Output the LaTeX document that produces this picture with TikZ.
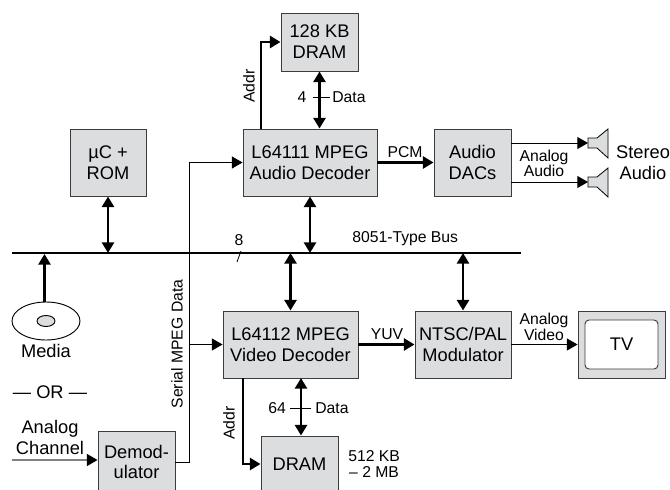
\documentclass[tikz,border=0pt]{standalone}
\usepackage{fontspec}
\setmainfont{Liberation Sans}
\usetikzlibrary{arrows.meta,shapes.geometric}
\definecolor{blockgray}{HTML}{DCDDDE}
\definecolor{edgegray}{HTML}{3C3C3C}
\begin{document}
\begin{tikzpicture}[
            x=0.75pt,y=-0.75pt,
            every node/.style={inner sep=0pt,align=center,font=\fontsize{13.7}{15.6}\selectfont},
            block/.style={draw=edgegray,fill=blockgray,line width=0.7pt},
            sublabel/.style={font=\fontsize{11.8}{11.8}\selectfont},
            thinline/.style={line width=0.7pt,-{Triangle[length=8pt,width=9pt,black]}},
            thickline/.style={line width=2.1pt,-{Triangle[length=8pt,width=9pt]}},
            bothline/.style={line width=2.1pt,{Triangle[length=8pt,width=9pt]}-{Triangle[length=8pt,width=9pt]}}
        ]
    \clip (0,0) rectangle (670,489);
    % Bus
        \coordinate (busleft) at (12,253);
        \coordinate (busright) at (521,253);
        \draw[line width=2.1pt] (busleft) -- (busright);
        \node[sublabel] (buswidth) at (239,240) {8};
        \node[sublabel,anchor=west] (busname) at (352,239) {8051-Type Bus};
        \coordinate (slashtop) at (241,251);
        \coordinate (slashbot) at (237,262);
        \draw[line width=0.6pt] (slashtop) -- (slashbot);
    % Blocks
        \node[block,minimum width=57.75pt,minimum height=43.5pt] (dramA) at (319.5,42) {128 KB\\DRAM};
        \node[block,minimum width=57pt,minimum height=50.25pt] (ucrom) at (108,162.5) {µC +\\ROM};
        \node[block,minimum width=100.5pt,minimum height=50.25pt] (audiodec) at (310,162.5) {L64111 MPEG\\Audio Decoder};
        \node[block,minimum width=57.75pt,minimum height=50.25pt] (dacs) at (472.5,162.5) {Audio\\DACs};
        \node[block,minimum width=101.25pt,minimum height=50.25pt] (videodec) at (290.5,344.5) {L64112 MPEG\\Video Decoder};
        \node[block,minimum width=72pt,minimum height=50.25pt] (modulator) at (463,344.5) {NTSC/PAL\\Modulator};
        \node[block,minimum width=65.25pt,minimum height=50.25pt] (tvcase) at (621.5,344.5) {};
        \node[draw=edgegray,fill=white,line width=0.7pt,rounded corners=3pt,minimum width=54.75pt,minimum height=36.75pt] (tv) at (621.5,344.5) {TV};
        \node[block,minimum width=57.75pt,minimum height=46.5pt] (demod) at (136.5,462) {Demod-\\ulator};
        \node[block,minimum width=57.75pt,minimum height=42pt] (dramV) at (299.5,464) {DRAM};
    % Media
        \node[draw,fill=white,ellipse,line width=0.7pt,minimum width=51pt,minimum height=28.5pt] (disc) at (46,321) {};
        \node[draw,fill=blockgray,ellipse,line width=0.7pt,minimum width=13.5pt,minimum height=8.25pt] (hole) at (disc.center) {};
        \node (media) at (46,351) {Media};
        \node (orlabel) at (50,392) {— OR —};
        \node (channel) at (50,437.5) {Analog\\Channel};
    % Speakers
    \foreach\y in {143,182}{
        \coordinate (spk\y) at (588,\y);
        \draw[fill=blockgray,line width=0.6pt] (588,\y-5) -- (597,\y-5) -- (608,\y-14) -- (608,\y+15) -- (597,\y+5) -- (588,\y+5) -- cycle;
    }
        \node (stereo) at (643,162.5) {Stereo\\Audio};
    % Bus arrows
        \draw[bothline] (ucrom.south) -- (ucrom.south |- busleft);
        \draw[bothline] (audiodec.south) -- (audiodec.south |- busleft);
        \draw[bothline] (videodec.north) -- (videodec.north |- busleft);
        \draw[bothline] (modulator.north) -- (modulator.north |- busleft);
        \coordinate (discbus) at (44.5,254);
        \draw[thickline] (discbus |- disc.north) -- (discbus);
    % Audio path
        \coordinate (addrA) at (261,129);
        \draw[thickline] (addrA) |- (dramA.west);
        \node[sublabel,rotate=90] (addrAlabel) at (249,86) {Addr};
        \draw[bothline] (dramA.south) -- (dramA.south |- audiodec.north);
        \node[sublabel] (widthA) at (302,97) {4};
        \node[sublabel,anchor=west] (dataA) at (332,97) {Data};
        \draw[line width=0.7pt] ([xshift=4.5pt]widthA.east) -- ([xshift=-1.5pt]dataA.west);
        \draw[thickline] (audiodec.east) -- (dacs.west);
        \node[sublabel] (pcm) at (405,152) {PCM};
        \draw[thinline] (dacs.east |- spk143) -- (spk143);
        \draw[thinline] (dacs.east |- spk182) -- (spk182);
        \node[sublabel] (analogA) at (544,163.5) {Analog\\Audio};
    % Video path
        \coordinate (addrV) at (243,378);
        \draw[thickline] (addrV) |- (dramV.west);
        \node[sublabel,rotate=90] (addrVlabel) at (229,423) {Addr};
        \coordinate (dataVtop) at (301,378);
        \draw[bothline] (dataVtop |- dramV.north) -- (dataVtop);
        \node[sublabel] (widthV) at (277,408) {64};
        \node[sublabel,anchor=west] (dataV) at (315,408) {Data};
        \draw[line width=0.7pt] ([xshift=3pt]widthV.east) -- ([xshift=-3pt]dataV.west);
        \node[sublabel,anchor=west] (sizeV) at (348,464) {512 KB\\– 2 MB};
        \draw[thickline] (videodec.east) -- (modulator.west);
        \node[sublabel] (yuv) at (387,334) {YUV};
        \draw[thinline] (modulator.east) -- (tvcase.west);
        \node[sublabel] (analogV) at (544,327) {Analog\\Video};
    % Serial data
        \coordinate (serialjoin) at (189.5,344.5);
        \draw[line width=0.7pt] (demod.east) -| (serialjoin);
        \draw[thinline] (serialjoin) |- (audiodec.west);
        \draw[thinline] (serialjoin) -- (videodec.west);
        \node[sublabel,rotate=90] (seriallabel) at (177,344) {Serial MPEG Data};
        \coordinate (channelstart) at (12,460);
        \draw[thinline,draw=gray,line width=1pt] (channelstart) -- (channelstart -| demod.west);
    \end{tikzpicture}
\end{document}
